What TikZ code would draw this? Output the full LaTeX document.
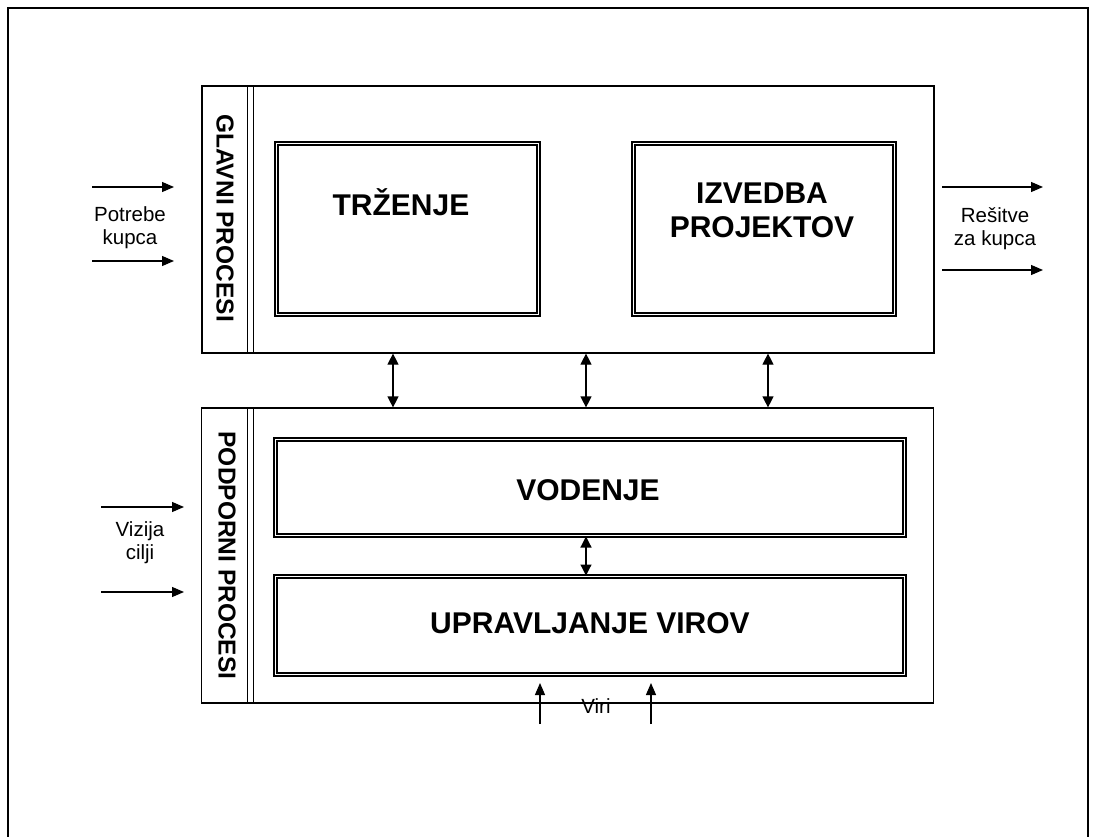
\documentclass[tikz,border=0pt]{standalone}
\usepackage{fontspec}
\setmainfont{Liberation Sans}
\usetikzlibrary{arrows.meta}
\begin{document}
\begin{tikzpicture}[x=1pt,y=-1pt,
  frameline/.style={line width=2.5pt},
  bigbox/.style={draw, line width=1.2pt, inner sep=0pt, minimum width=732pt},
  sepline/.style={line width=1pt},
  innerbox/.style={draw, double, double distance=1.3pt, line width=1.6pt, inner sep=0pt},
  bigtext/.style={font=\fontsize{30}{34}\selectfont\bfseries, inner sep=0pt, anchor=base, align=center},
  sidetext/.style={font=\fontsize{24.5}{26}\selectfont\bfseries, inner sep=0pt, rotate=-90},
  smalltext/.style={font=\fontsize{20.5}{23}\selectfont, inner sep=0pt, align=center},
  arr/.style={line width=1.2pt, -{Triangle[length=12pt,width=10pt]}},
  dblarr/.style={line width=1.2pt, {Triangle[length=11pt,width=11pt]}-{Triangle[length=11pt,width=11pt]}}
]
\useasboundingbox (0,0) rectangle (1096,837);
% outer frame
\draw[frameline] (8,845) -- (8,8) -- (1088,8) -- (1088,845);

% main boxes
\node[bigbox, minimum height=267pt] (glavni) at (568,219.5) {};
\node[bigbox, minimum height=295pt] (podporni) at (567.5,555.5) {};
% side panel separators
\draw[sepline] (247,86) -- (247,353) (253,86) -- (253,353);
\draw[sepline] (247,408) -- (247,703) (253,408) -- (253,703);
\node[sidetext] (glavnit) at (225,218) {GLAVNI PROCESI};
\node[sidetext] (podpornit) at (227,555.5) {PODPORNI PROCESI};

% inner boxes
\node[innerbox, minimum width=262.4pt, minimum height=171.4pt] (trzenje) at (407.5,229) {};
\node[innerbox, minimum width=261.4pt, minimum height=171.4pt] (izvedba) at (764,229) {};
\node[innerbox, minimum width=629.4pt, minimum height=96.4pt] (vodenje) at (590,487.5) {};
\node[innerbox, minimum width=629.4pt, minimum height=98.4pt] (upravljanje) at (590,625.5) {};

\node[bigtext] (trzenjet) at (401,216) {TRŽENJE};
\node[bigtext] (izvedbat) at (762,238) {IZVEDBA\\PROJEKTOV};
\node[bigtext] (vodenjet) at (588,500) {VODENJE};
\node[bigtext] (upravljanjet) at (590,633) {UPRAVLJANJE VIROV};

% connections between main boxes
\coordinate (c1) at (393,0);
\coordinate (c2) at (586,0);
\coordinate (c3) at (768,0);
\draw[dblarr] (glavni.south -| c1) -- (podporni.north -| c1);
\draw[dblarr] (glavni.south -| c2) -- (podporni.north -| c2);
\draw[dblarr] (glavni.south -| c3) -- (podporni.north -| c3);
\draw[dblarr] (vodenje.south -| c2) -- (upravljanje.north -| c2);

% inputs left
\coordinate (pa1) at (92,187); \coordinate (pb1) at (174,187);
\coordinate (pa2) at (92,261); \coordinate (pb2) at (174,261);
\draw[arr] (pa1) -- (pb1);
\draw[arr] (pa2) -- (pb2);
\node[smalltext] (potrebe) at (130,228) {Potrebe\\kupca};

\coordinate (va1) at (101,507); \coordinate (vb1) at (184,507);
\coordinate (va2) at (101,592); \coordinate (vb2) at (184,592);
\draw[arr] (va1) -- (vb1);
\draw[arr] (va2) -- (vb2);
\node[smalltext] (vizija) at (140,543) {Vizija\\cilji};

% outputs right
\coordinate (ra1) at (942,187); \coordinate (rb1) at (1043,187);
\coordinate (ra2) at (942,270); \coordinate (rb2) at (1043,270);
\draw[arr] (ra1) -- (rb1);
\draw[arr] (ra2) -- (rb2);
\node[smalltext] (resitve) at (995,229) {Rešitve\\za kupca};

% resources bottom
\coordinate (ia1) at (540,724); \coordinate (ib1) at (540,683);
\coordinate (ia2) at (651,724); \coordinate (ib2) at (651,683);
\draw[arr] (ia1) -- (ib1);
\draw[arr] (ia2) -- (ib2);
\node[smalltext] (viri) at (596,706) {Viri};
\end{tikzpicture}
\end{document}
